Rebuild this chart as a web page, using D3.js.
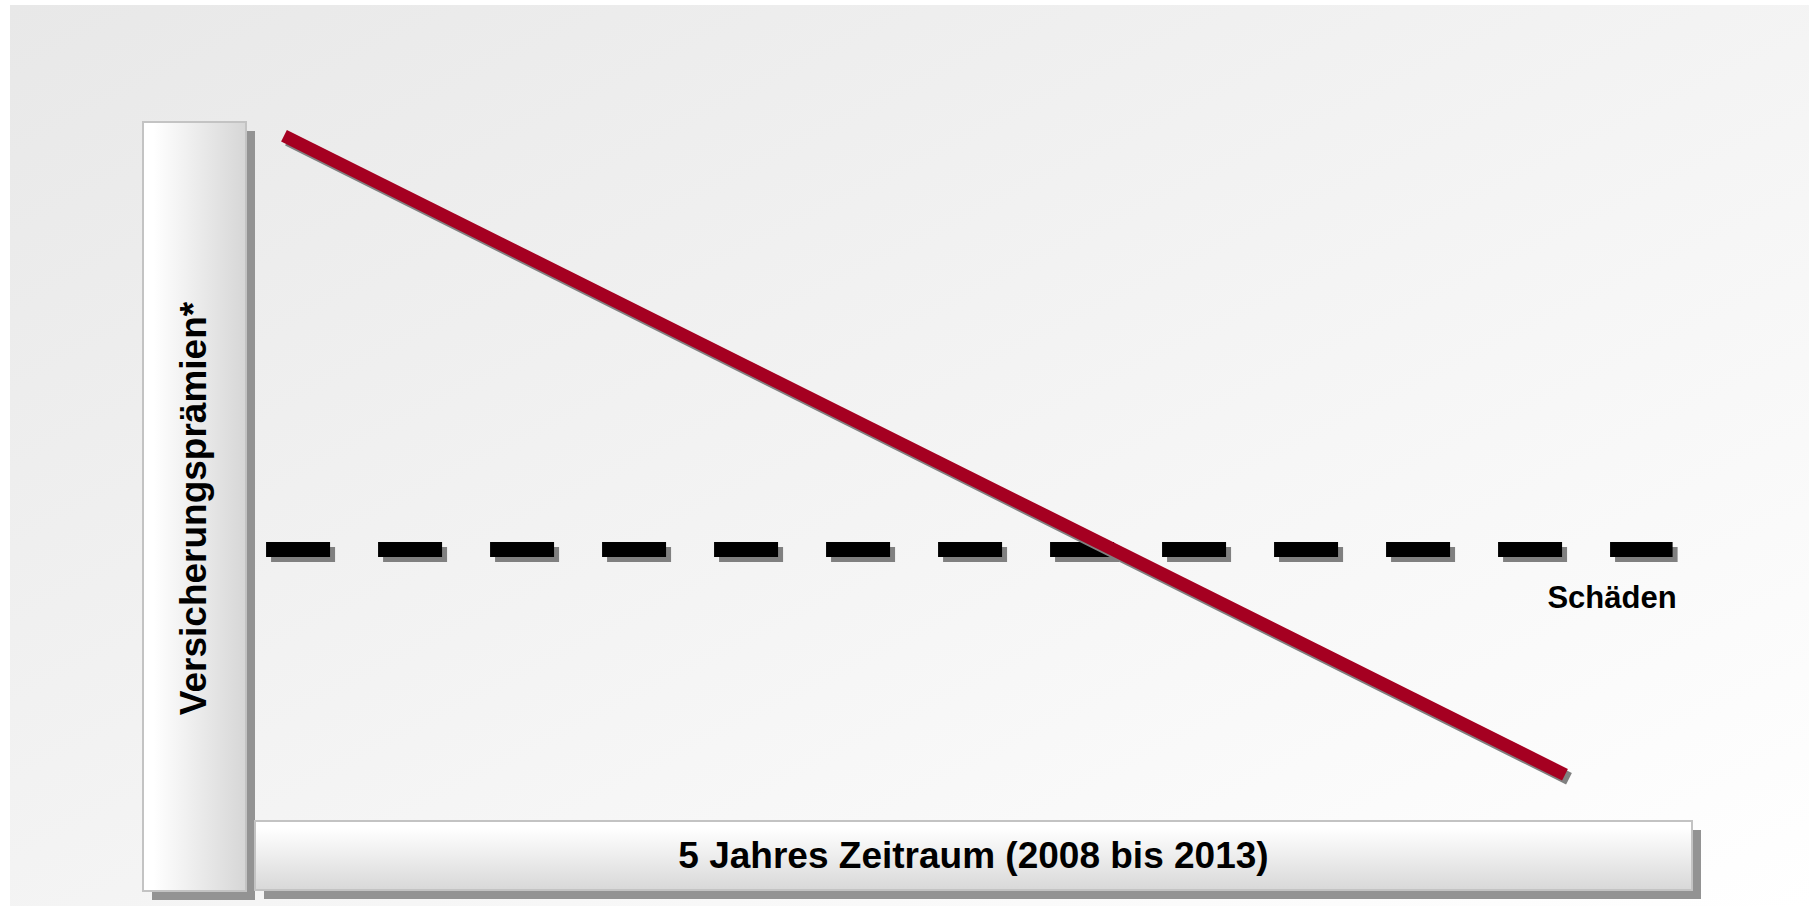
<!DOCTYPE html>
<html>
<head>
<meta charset="utf-8">
<script src="https://cdn.jsdelivr.net/npm/d3@7"></script>
<style>
  body { margin: 0; background: #fff; }
  svg { display: block; font-family: "Liberation Sans", Arial, sans-serif; }
</style>
</head>
<body>
<div id="chart"></div>
<script>
const years = [2008, 2013];
const premiums = [97.9, 6.6];
const damageSpan = [2007.93, 2013.42];
const damages = [38.8, 38.8];
const yLabel = "Versicherungsprämien*";
const xLabel = "5 Jahres Zeitraum (2008 bis 2013)";
const damageLabel = "Schäden";

const width = 1809;
const height = 907;

const x = d3.scaleLinear().domain([2008, 2013]).range([284, 1565]);
const y = d3.scaleLinear().domain([0, 100]).range([821, 121]);

const svg = d3
  .select("#chart")
  .append("svg")
  .attr("width", width)
  .attr("height", height);

const defs = svg.append("defs");

// background plate gradient, darker top left
const bg = defs.append("linearGradient").attr("id", "bg")
  .attr("x1", 0).attr("y1", 0).attr("x2", 1).attr("y2", 1);
bg.append("stop").attr("offset", 0).attr("stop-color", "#e8e8e8");
bg.append("stop").attr("offset", 1).attr("stop-color", "#ffffff");

// y box: white left -> gray right
const gy = defs.append("linearGradient").attr("id", "gy")
  .attr("x1", 0).attr("y1", 0).attr("x2", 1).attr("y2", 0);
gy.append("stop").attr("offset", 0.1).attr("stop-color", "#ffffff");
gy.append("stop").attr("offset", 1).attr("stop-color", "#d6d6d6");

// x box: white top -> gray bottom
const gx = defs.append("linearGradient").attr("id", "gx")
  .attr("x1", 0).attr("y1", 0).attr("x2", 0).attr("y2", 1);
gx.append("stop").attr("offset", 0.1).attr("stop-color", "#ffffff");
gx.append("stop").attr("offset", 1).attr("stop-color", "#d8d8d8");

svg.append("rect")
  .attr("x", 10).attr("y", 5)
  .attr("width", width - 10).attr("height", 901)
  .attr("fill", "url(#bg)");

// axis boxes with drop shadow
const boxes = [
  { x: 143, y: 122, w: 103, h: 769, fill: "url(#gy)" },
  { x: 255, y: 821, w: 1437, h: 69, fill: "url(#gx)" }
];
svg.selectAll("rect.shadow")
  .data(boxes)
  .enter()
  .append("rect")
  .attr("class", "shadow")
  .attr("x", (d) => d.x + 9)
  .attr("y", (d) => d.y + 9)
  .attr("width", (d) => d.w)
  .attr("height", (d) => d.h)
  .attr("fill", "#939393");
svg.selectAll("rect.box")
  .data(boxes)
  .enter()
  .append("rect")
  .attr("class", "box")
  .attr("x", (d) => d.x)
  .attr("y", (d) => d.y)
  .attr("width", (d) => d.w)
  .attr("height", (d) => d.h)
  .attr("fill", (d) => d.fill)
  .attr("stroke", "#c3c3c3")
  .attr("stroke-width", 2);

// axis labels
svg.append("text")
  .attr("transform", `translate(206,${(122 + 891) / 2 + 2}) rotate(-90)`)
  .attr("text-anchor", "middle")
  .style("font-size", "37px")
  .style("font-weight", "bold")
  .text(yLabel);

svg.append("text")
  .attr("x", 255 + 1437 / 2)
  .attr("y", 868)
  .attr("text-anchor", "middle")
  .style("font-size", "37px")
  .style("font-weight", "bold")
  .text(xLabel);

const line = d3.line().x((d) => x(d[0])).y((d) => y(d[1]));
const damageData = d3.zip(damageSpan, damages);
const premiumData = d3.zip(years, premiums);

// damages: dashed black line with gray shadow
svg.append("path")
  .datum(damageData)
  .attr("d", line)
  .attr("transform", "translate(5,5)")
  .attr("fill", "none")
  .attr("stroke", "#808080")
  .attr("stroke-width", 15)
  .attr("stroke-dasharray", "64 48");
svg.append("path")
  .datum(damageData)
  .attr("d", line)
  .attr("fill", "none")
  .attr("stroke", "#000")
  .attr("stroke-width", 15)
  .attr("stroke-dasharray", "64 48");

// premiums: red falling line with gray shadow
svg.append("path")
  .datum(premiumData)
  .attr("d", line)
  .attr("transform", "translate(4,4)")
  .attr("fill", "none")
  .attr("stroke", "#808080")
  .attr("stroke-width", 13);
svg.append("path")
  .datum(premiumData)
  .attr("d", line)
  .attr("fill", "none")
  .attr("stroke", "#a50021")
  .attr("stroke-width", 13);

svg.append("text")
  .attr("x", x(damageSpan[1]) + 4)
  .attr("y", 608)
  .attr("text-anchor", "end")
  .style("font-size", "31px")
  .style("font-weight", "bold")
  .text(damageLabel);
</script>
</body>
</html>
